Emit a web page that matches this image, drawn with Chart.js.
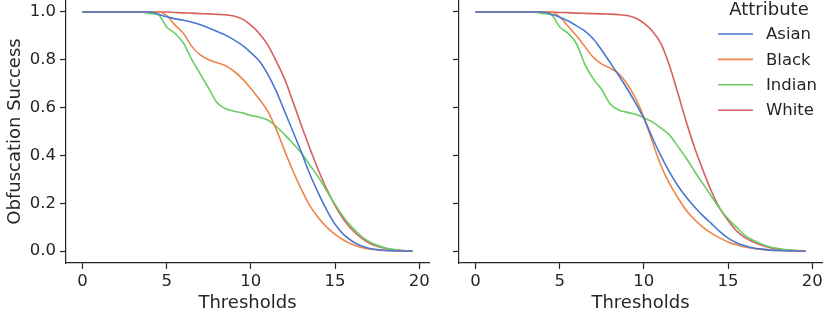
<!DOCTYPE html>
<html><head><meta charset="utf-8">
<script src="https://cdn.jsdelivr.net/npm/chart.js@4"></script>
<style>
html,body{margin:0;padding:0;background:#fff;}
#wrap{position:relative;width:831px;height:316px;overflow:hidden;background:#fff;}
canvas{position:absolute;top:0;}
</style></head><body>
<div id="wrap">
<canvas id="left" width="440" height="316" style="left:0px"></canvas>
<canvas id="right" width="391" height="316" style="left:440px"></canvas>
</div>
<script>
const thresholds = [0,0.5,1,1.5,2,2.5,3,3.5,4,4.5,5,5.5,6,6.5,7,7.5,8,8.5,9,9.5,10,10.5,11,11.5,12,12.5,13,13.5,14,14.5,15,15.5,16,16.5,17,17.5,18,18.5,19,19.6];
const categories = ['Asian','Black','Indian','White'];
const legendTitle = 'Attribute';
const xTitle = 'Thresholds';
const yTitle = 'Obfuscation Success';
const xTicks = [0,5,10,15,20];
const yTicks = [0,0.2,0.4,0.6,0.8,1.0];

// left panel
const leftAsian  = [1,1,1,1,1,1,1,1,1,0.99,0.98,0.971,0.965,0.957,0.946,0.933,0.918,0.903,0.883,0.86,0.83,0.795,0.74,0.67,0.585,0.5,0.413,0.322,0.243,0.172,0.112,0.07,0.042,0.023,0.012,0.006,0.003,0.001,0,0];
const leftBlack  = [1,1,1,1,1,1,1,1,1,1,0.985,0.945,0.91,0.855,0.82,0.8,0.788,0.775,0.752,0.72,0.68,0.635,0.585,0.51,0.42,0.335,0.258,0.19,0.14,0.1,0.07,0.046,0.028,0.016,0.009,0.005,0.002,0.001,0,0];
const leftIndian = [1,1,1,1,1,1,1,1,0.993,0.988,0.937,0.91,0.869,0.8,0.74,0.68,0.62,0.595,0.585,0.578,0.567,0.56,0.548,0.522,0.487,0.45,0.41,0.36,0.31,0.252,0.195,0.143,0.1,0.066,0.04,0.024,0.013,0.006,0.002,0];
const leftWhite  = [1,1,1,1,1,1,1,1,1,1,1,0.998,0.996,0.995,0.993,0.992,0.99,0.988,0.983,0.97,0.945,0.91,0.862,0.795,0.72,0.625,0.525,0.43,0.34,0.26,0.19,0.133,0.09,0.058,0.035,0.02,0.011,0.005,0.002,0];

// right panel
const rightAsian  = [1,1,1,1,1,1,1,1,1,0.99,0.978,0.962,0.942,0.92,0.887,0.84,0.788,0.735,0.68,0.62,0.555,0.475,0.4,0.333,0.275,0.227,0.185,0.148,0.116,0.082,0.054,0.035,0.022,0.013,0.008,0.004,0.002,0.001,0,0];
const rightBlack  = [1,1,1,1,1,1,1,1,1,1,0.98,0.94,0.9,0.855,0.81,0.782,0.765,0.742,0.7,0.64,0.56,0.458,0.36,0.285,0.225,0.172,0.132,0.1,0.075,0.055,0.038,0.026,0.017,0.011,0.007,0.004,0.002,0.001,0,0];
const rightIndian = [1,1,1,1,1,1,1,1,0.993,0.988,0.937,0.91,0.867,0.78,0.72,0.675,0.615,0.59,0.58,0.572,0.557,0.54,0.515,0.487,0.44,0.39,0.335,0.282,0.23,0.178,0.135,0.1,0.066,0.045,0.028,0.017,0.01,0.005,0.002,0];
const rightWhite  = [1,1,1,1,1,1,1,1,1,1,0.998,0.997,0.995,0.994,0.993,0.992,0.991,0.989,0.985,0.975,0.953,0.92,0.87,0.78,0.665,0.545,0.435,0.34,0.252,0.18,0.128,0.085,0.056,0.038,0.024,0.014,0.007,0.004,0.002,0];

const colors = ['#4878d0','#ee854a','#6acc64','#d65f5f'];
const textColor = '#262626';
const FONT = '"DejaVu Sans", sans-serif';

function makeDatasets(series) {
  return series.map((arr, i) => ({
    label: categories[i],
    data: thresholds.map((t, j) => ({x: t, y: arr[j]})),
    borderColor: colors[i],
    backgroundColor: colors[i],
    borderWidth: 1.6,
    pointRadius: 0,
    fill: false,
    cubicInterpolationMode: 'monotone'
  }));
}

function makeOptions(showYLabels, yWidth, padRight) {
  return {
    responsive: false,
    animation: false,
    devicePixelRatio: 1,
    layout: {padding: {left: 0, right: padRight, top: 0, bottom: 0}},
    plugins: {legend: {display: false}, tooltip: {enabled: false}},
    scales: {
      x: {
        type: 'linear', min: -0.98, max: 20.58,
        afterBuildTicks: s => { s.ticks = xTicks.map(v => ({value: v})); },
        afterFit: s => { s.height = 53; s.paddingLeft = 0; s.paddingRight = 0; },
        ticks: {font: {family: FONT, size: 16.5}, color: textColor, padding: 3, maxRotation: 0, autoSkip: false,
                callback: v => String(v)},
        grid: {display: true, drawOnChartArea: false, drawTicks: true, tickLength: 6, tickWidth: 1.2, tickColor: textColor},
        border: {display: true, color: textColor, width: 1.2},
        title: {display: true, text: xTitle, color: textColor, font: {family: FONT, size: 18}, padding: {top: 0, bottom: 1.5}}
      },
      y: {
        type: 'linear', min: -0.05, max: 1.05,
        afterBuildTicks: s => { s.ticks = yTicks.map(v => ({value: v})); },
        afterFit: s => { s.width = yWidth; s.paddingTop = 0; s.paddingBottom = 0; },
        ticks: {display: showYLabels, font: {family: FONT, size: 16.5}, color: textColor, padding: 4,
                callback: v => Number(v).toFixed(1)},
        grid: {display: true, drawOnChartArea: false, drawTicks: true, tickLength: 6, tickWidth: 1.2, tickColor: textColor},
        border: {display: true, color: textColor, width: 1.2},
        title: {display: showYLabels, text: yTitle, color: textColor, font: {family: FONT, size: 18}, padding: {top: 5, bottom: 0}}
      }
    }
  };
}

const legendPlugin = {
  id: 'attrLegend',
  afterDraw(chart) {
    const ctx = chart.ctx;
    ctx.save();
    ctx.fillStyle = textColor;
    ctx.font = '18px ' + FONT;
    ctx.textAlign = 'center';
    ctx.textBaseline = 'middle';
    ctx.fillText(legendTitle, 329, 10);
    ctx.font = '16.5px ' + FONT;
    ctx.textAlign = 'left';
    chart.data.datasets.forEach((ds, i) => {
      const y = 34 + i * 25.4;
      ctx.strokeStyle = ds.borderColor;
      ctx.lineWidth = ds.borderWidth;
      ctx.beginPath();
      ctx.moveTo(278, y);
      ctx.lineTo(313, y);
      ctx.stroke();
      ctx.fillText(ds.label, 326, y + 1);
    });
    ctx.restore();
  }
};

new Chart(document.getElementById('left'), {
  type: 'line',
  data: {datasets: makeDatasets([leftAsian, leftBlack, leftIndian, leftWhite])},
  options: makeOptions(true, 66, 11)
});

new Chart(document.getElementById('right'), {
  type: 'line',
  data: {datasets: makeDatasets([rightAsian, rightBlack, rightIndian, rightWhite])},
  options: makeOptions(false, 19, 9),
  plugins: [legendPlugin]
});
</script>
</body></html>
